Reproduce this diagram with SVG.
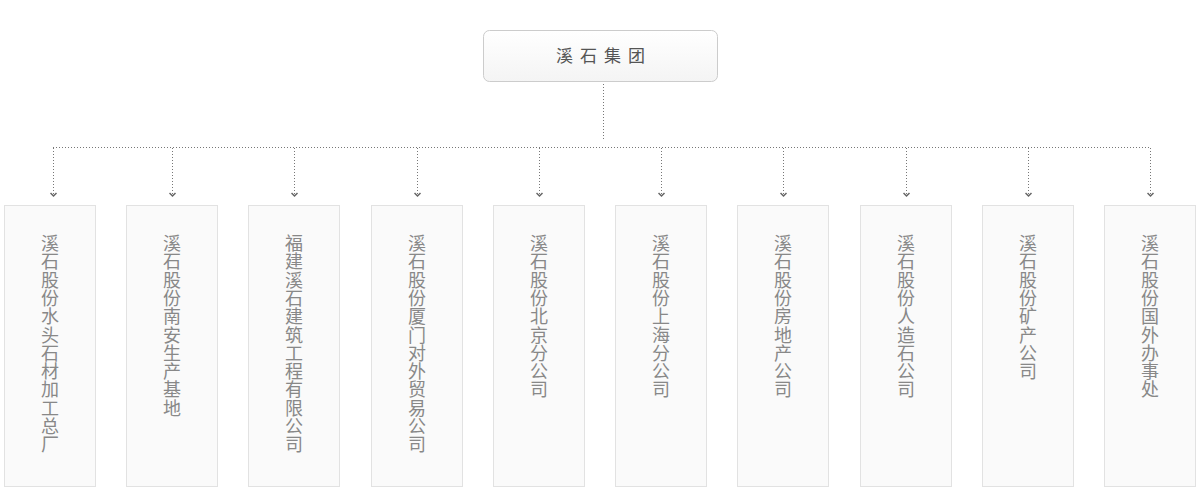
<svg xmlns="http://www.w3.org/2000/svg" width="1200" height="498" viewBox="0 0 1200 498">
<defs>
<linearGradient id="g" x1="0" y1="0" x2="0" y2="1"><stop offset="0" stop-color="#ffffff"/><stop offset="1" stop-color="#f4f4f4"/></linearGradient>
<marker id="ah" markerWidth="6" markerHeight="8" refX="4" refY="4" orient="auto" markerUnits="userSpaceOnUse" viewBox="0 0 6 8"><path d="M1,1 L4,4 L1,7" fill="none" stroke="#666" stroke-width="1.5"/></marker>
</defs>
<style>
.dot{fill:none;stroke:#777;stroke-width:1;stroke-dasharray:1 2}
.box{fill:#fafafa;stroke:#e2e2e2;stroke-width:1}
.t{font-family:"Liberation Sans","Noto Sans CJK SC",sans-serif;font-size:18px;fill:#888;text-anchor:middle}
.top{font-family:"Liberation Sans","Noto Sans CJK SC",sans-serif;font-size:17px;fill:#555;text-anchor:middle;letter-spacing:7px}
</style>
<rect width="1200" height="498" fill="#fff"/>
<g id="root">
<rect x="483.5" y="30.5" width="234" height="51" rx="6" fill="url(#g)" stroke="#ccc"/>
<text class="top" x="604" y="62">溪石集团</text>
</g>
<g id="connectors">
<path class="dot" d="M603.5,84 V140"/>
<path class="dot" d="M53,147.5 H1151"/>
<path class="dot" d="M53.5,148 V196" marker-end="url(#ah)"/>
<path class="dot" d="M172.5,148 V196" marker-end="url(#ah)"/>
<path class="dot" d="M294.5,148 V196" marker-end="url(#ah)"/>
<path class="dot" d="M417.5,148 V196" marker-end="url(#ah)"/>
<path class="dot" d="M539.5,148 V196" marker-end="url(#ah)"/>
<path class="dot" d="M661.5,148 V196" marker-end="url(#ah)"/>
<path class="dot" d="M783.5,148 V196" marker-end="url(#ah)"/>
<path class="dot" d="M906.5,148 V196" marker-end="url(#ah)"/>
<path class="dot" d="M1028.5,148 V196" marker-end="url(#ah)"/>
<path class="dot" d="M1150.5,148 V196" marker-end="url(#ah)"/>
</g>
<g id="n1"><rect class="box" x="4.5" y="205.5" width="91" height="281"/>
<text class="t" x="50" y="250"><tspan x="50">溪</tspan><tspan x="50" dy="18.3">石</tspan><tspan x="50" dy="18.3">股</tspan><tspan x="50" dy="18.3">份</tspan><tspan x="50" dy="18.3">水</tspan><tspan x="50" dy="18.3">头</tspan><tspan x="50" dy="18.3">石</tspan><tspan x="50" dy="18.3">材</tspan><tspan x="50" dy="18.3">加</tspan><tspan x="50" dy="18.3">工</tspan><tspan x="50" dy="18.3">总</tspan><tspan x="50" dy="18.3">厂</tspan></text></g>
<g id="n2"><rect class="box" x="126.5" y="205.5" width="91" height="281"/>
<text class="t" x="172" y="250"><tspan x="172">溪</tspan><tspan x="172" dy="18.3">石</tspan><tspan x="172" dy="18.3">股</tspan><tspan x="172" dy="18.3">份</tspan><tspan x="172" dy="18.3">南</tspan><tspan x="172" dy="18.3">安</tspan><tspan x="172" dy="18.3">生</tspan><tspan x="172" dy="18.3">产</tspan><tspan x="172" dy="18.3">基</tspan><tspan x="172" dy="18.3">地</tspan></text></g>
<g id="n3"><rect class="box" x="248.5" y="205.5" width="91" height="281"/>
<text class="t" x="294" y="250"><tspan x="294">福</tspan><tspan x="294" dy="18.3">建</tspan><tspan x="294" dy="18.3">溪</tspan><tspan x="294" dy="18.3">石</tspan><tspan x="294" dy="18.3">建</tspan><tspan x="294" dy="18.3">筑</tspan><tspan x="294" dy="18.3">工</tspan><tspan x="294" dy="18.3">程</tspan><tspan x="294" dy="18.3">有</tspan><tspan x="294" dy="18.3">限</tspan><tspan x="294" dy="18.3">公</tspan><tspan x="294" dy="18.3">司</tspan></text></g>
<g id="n4"><rect class="box" x="371.5" y="205.5" width="91" height="281"/>
<text class="t" x="417" y="250"><tspan x="417">溪</tspan><tspan x="417" dy="18.3">石</tspan><tspan x="417" dy="18.3">股</tspan><tspan x="417" dy="18.3">份</tspan><tspan x="417" dy="18.3">厦</tspan><tspan x="417" dy="18.3">门</tspan><tspan x="417" dy="18.3">对</tspan><tspan x="417" dy="18.3">外</tspan><tspan x="417" dy="18.3">贸</tspan><tspan x="417" dy="18.3">易</tspan><tspan x="417" dy="18.3">公</tspan><tspan x="417" dy="18.3">司</tspan></text></g>
<g id="n5"><rect class="box" x="493.5" y="205.5" width="91" height="281"/>
<text class="t" x="539" y="250"><tspan x="539">溪</tspan><tspan x="539" dy="18.3">石</tspan><tspan x="539" dy="18.3">股</tspan><tspan x="539" dy="18.3">份</tspan><tspan x="539" dy="18.3">北</tspan><tspan x="539" dy="18.3">京</tspan><tspan x="539" dy="18.3">分</tspan><tspan x="539" dy="18.3">公</tspan><tspan x="539" dy="18.3">司</tspan></text></g>
<g id="n6"><rect class="box" x="615.5" y="205.5" width="91" height="281"/>
<text class="t" x="661" y="250"><tspan x="661">溪</tspan><tspan x="661" dy="18.3">石</tspan><tspan x="661" dy="18.3">股</tspan><tspan x="661" dy="18.3">份</tspan><tspan x="661" dy="18.3">上</tspan><tspan x="661" dy="18.3">海</tspan><tspan x="661" dy="18.3">分</tspan><tspan x="661" dy="18.3">公</tspan><tspan x="661" dy="18.3">司</tspan></text></g>
<g id="n7"><rect class="box" x="737.5" y="205.5" width="91" height="281"/>
<text class="t" x="783" y="250"><tspan x="783">溪</tspan><tspan x="783" dy="18.3">石</tspan><tspan x="783" dy="18.3">股</tspan><tspan x="783" dy="18.3">份</tspan><tspan x="783" dy="18.3">房</tspan><tspan x="783" dy="18.3">地</tspan><tspan x="783" dy="18.3">产</tspan><tspan x="783" dy="18.3">公</tspan><tspan x="783" dy="18.3">司</tspan></text></g>
<g id="n8"><rect class="box" x="860.5" y="205.5" width="91" height="281"/>
<text class="t" x="906" y="250"><tspan x="906">溪</tspan><tspan x="906" dy="18.3">石</tspan><tspan x="906" dy="18.3">股</tspan><tspan x="906" dy="18.3">份</tspan><tspan x="906" dy="18.3">人</tspan><tspan x="906" dy="18.3">造</tspan><tspan x="906" dy="18.3">石</tspan><tspan x="906" dy="18.3">公</tspan><tspan x="906" dy="18.3">司</tspan></text></g>
<g id="n9"><rect class="box" x="982.5" y="205.5" width="91" height="281"/>
<text class="t" x="1028" y="250"><tspan x="1028">溪</tspan><tspan x="1028" dy="18.3">石</tspan><tspan x="1028" dy="18.3">股</tspan><tspan x="1028" dy="18.3">份</tspan><tspan x="1028" dy="18.3">矿</tspan><tspan x="1028" dy="18.3">产</tspan><tspan x="1028" dy="18.3">公</tspan><tspan x="1028" dy="18.3">司</tspan></text></g>
<g id="n10"><rect class="box" x="1104.5" y="205.5" width="91" height="281"/>
<text class="t" x="1150" y="250"><tspan x="1150">溪</tspan><tspan x="1150" dy="18.3">石</tspan><tspan x="1150" dy="18.3">股</tspan><tspan x="1150" dy="18.3">份</tspan><tspan x="1150" dy="18.3">国</tspan><tspan x="1150" dy="18.3">外</tspan><tspan x="1150" dy="18.3">办</tspan><tspan x="1150" dy="18.3">事</tspan><tspan x="1150" dy="18.3">处</tspan></text></g>
</svg>
